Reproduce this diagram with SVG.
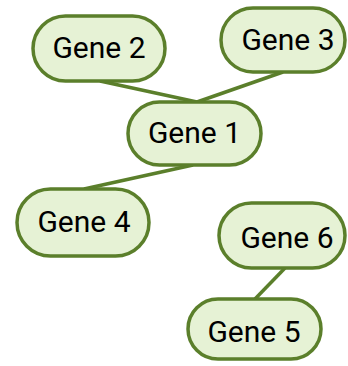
<svg xmlns="http://www.w3.org/2000/svg" width="348" height="366" viewBox="0 0 348 366">
<style>
.n rect{fill:#e6f2d5;stroke:#5b7f2b;stroke-width:3.5}
.n text{font-family:Roboto,"Liberation Sans",sans-serif;font-size:30px;fill:#000;text-anchor:middle;dominant-baseline:central}
.e line{stroke:#5b7f2b;stroke-width:3.5}
</style>
<rect width="348" height="366" fill="#fff"/>
<g id="edges" class="e">
<line x1="100" y1="81" x2="197" y2="102"/>
<line x1="283" y1="72" x2="197" y2="102"/>
<line x1="193" y1="165" x2="84" y2="189"/>
<line x1="285" y1="268" x2="255" y2="299"/>
</g>
<g id="gene1" class="n"><rect x="128" y="102" width="133" height="63" rx="31.5"/><text x="194.5" y="132">Gene 1</text></g>
<g id="gene2" class="n"><rect x="33" y="16" width="132" height="65" rx="32.5"/><text x="99" y="47">Gene 2</text></g>
<g id="gene3" class="n"><rect x="221" y="8" width="124" height="64" rx="32"/><text x="288" y="39">Gene 3</text></g>
<g id="gene4" class="n"><rect x="17" y="189" width="132" height="67" rx="33.5"/><text x="84" y="221">Gene 4</text></g>
<g id="gene6" class="n"><rect x="219" y="203" width="126" height="65" rx="32.5"/><text x="287" y="237">Gene 6</text></g>
<g id="gene5" class="n"><rect x="188" y="299" width="133" height="60" rx="30"/><text x="254" y="331">Gene 5</text></g>
</svg>
